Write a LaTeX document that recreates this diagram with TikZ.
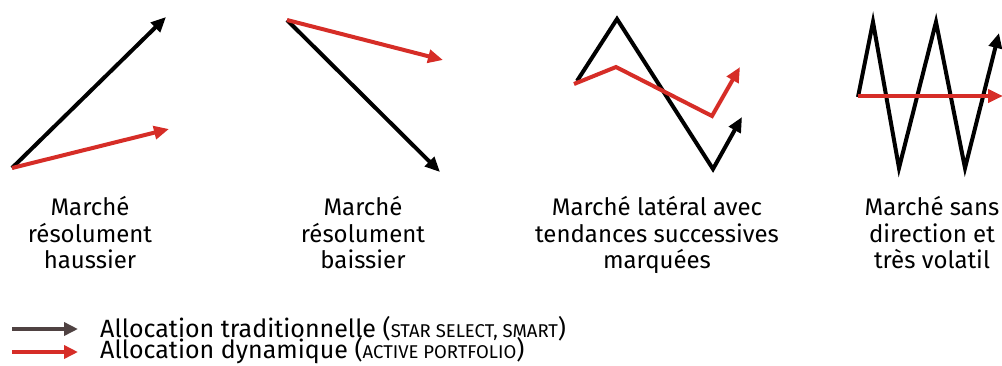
\documentclass[tikz,border=0pt]{standalone}
\usepackage{fontspec}
\setmainfont{Fira Sans}
\usetikzlibrary{arrows.meta}
\definecolor{ared}{HTML}{D62D27}
\definecolor{abrown}{HTML}{4F4242}
\newcommand{\mysmcp}[1]{{\fontsize{18.5}{19}\selectfont #1}}
\begin{document}
\begin{tikzpicture}[x=1pt,y=-1pt,
  trad/.style={line width=4pt, black, line join=miter, -{Triangle[length=15pt,width=13pt]}},
  dyn/.style={line width=4pt, ared, line join=miter, -{Triangle[length=15pt,width=13pt]}},
  lbl/.style={anchor=base, inner sep=0pt, font=\fontsize{24}{26}\selectfont},
  leg/.style={anchor=base west, inner sep=0pt, font=\fontsize{25}{26}\selectfont}]
\useasboundingbox (0,0) rectangle (1002,365);
\clip (0,0) rectangle (1002,365);
% panel 1
\coordinate (a0) at (12,168);
\coordinate (a1) at (166,17);
\coordinate (a2) at (169,129);
\draw[trad] (a0) -- (a1);
\draw[dyn] (a0) -- (a2);
% panel 2
\coordinate (b0) at (287,20);
\coordinate (b1) at (440,172);
\coordinate (b2) at (443,60);
\draw[trad] (b0) -- (b1);
\draw[dyn] (b0) -- (b2);
% panel 3
\coordinate (c0) at (577,81);
\coordinate (c1) at (617,19);
\coordinate (c2) at (713,169);
\coordinate (c3) at (742,117);
\draw[trad] (c0) -- (c1) -- (c2) -- (c3);
\coordinate (d0) at (574,84);
\coordinate (d1) at (616,67);
\coordinate (d2) at (712,116);
\coordinate (d3) at (740,67);
\draw[dyn] (d0) -- (d1) -- (d2) -- (d3);
% panel 4
\coordinate (e0) at (858,97);
\coordinate (e1) at (873,22);
\coordinate (e2) at (899,168);
\coordinate (e3) at (936,22);
\coordinate (e4) at (965,168);
\coordinate (e5) at (999,33);
\draw[trad] (e0) -- (e1) -- (e2) -- (e3) -- (e4) -- (e5);
\coordinate (f0) at (858,96);
\coordinate (f1) at (1003,96);
\draw[dyn] (f0) -- (f1);
% labels
\node[lbl] (l1a) at (90,215) {Marché};
\node[lbl] (l1b) at (90,242) {résolument};
\node[lbl] (l1c) at (90,268) {haussier};
\node[lbl] (l2a) at (363,215) {Marché};
\node[lbl] (l2b) at (363,242) {résolument};
\node[lbl] (l2c) at (363,268) {baissier};
\node[lbl] (l3a) at (657,215) {Marché latéral avec};
\node[lbl] (l3b) at (657,242) {tendances successives};
\node[lbl] (l3c) at (657,268) {marquées};
\node[lbl] (l4a) at (932,215) {Marché sans};
\node[lbl] (l4b) at (932,242) {direction et};
\node[lbl] (l4c) at (932,268) {très volatil};
% legend
\coordinate (g0) at (12,329);
\coordinate (g1) at (78,329);
\coordinate (h0) at (12,352);
\coordinate (h1) at (78,352);
\draw[line width=4pt, abrown, -{Triangle[length=14pt,width=13pt]}] (g0) -- (g1);
\draw[line width=4pt, ared, -{Triangle[length=14pt,width=13pt]}] (h0) -- (h1);
\node[leg] (t1) at (100,337) {Allocation traditionnelle (\mysmcp{STAR SELECT, SMART})};
\node[leg] (t2) at (100,358) {Allocation dynamique (\mysmcp{ACTIVE PORTFOLIO})};
\end{tikzpicture}
\end{document}
